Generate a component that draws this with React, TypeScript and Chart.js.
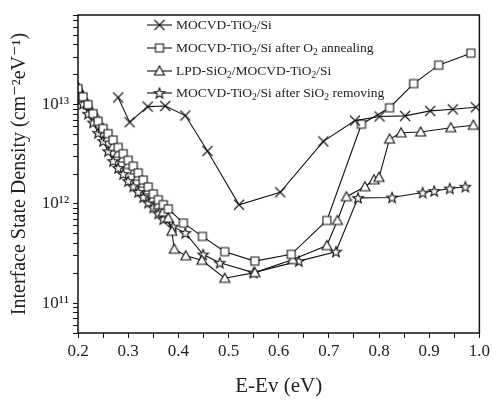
import React, { useEffect, useRef } from "react";
import { Chart, registerables } from "chart.js";
Chart.register(...registerables);

// ---- data ----
const crossX = [0.28, 0.303, 0.339, 0.374, 0.414, 0.458, 0.521, 0.603, 0.689, 0.752, 0.801, 0.852, 0.902, 0.947, 0.993];
const crossY = [1.18e13, 6.65e12, 9.55e12, 9.7e12, 7.76e12, 3.41e12, 9.8e11, 1.31e12, 4.26e12, 6.9e12, 7.6e12, 7.7e12, 8.65e12, 8.97e12, 9.4e12];

const squareX = [0.2, 0.21, 0.22, 0.23, 0.24, 0.25, 0.26, 0.27, 0.28, 0.29, 0.3, 0.31, 0.32, 0.33, 0.34, 0.35, 0.36, 0.37, 0.38, 0.41, 0.448, 0.4925, 0.5525, 0.625, 0.696, 0.765, 0.821, 0.869, 0.919, 0.983];
const squareY = [1.45e13, 1.2e13, 1.0e13, 8.1e12, 6.8e12, 5.75e12, 5.1e12, 4.4e12, 3.7e12, 3.2e12, 2.75e12, 2.4e12, 2.05e12, 1.74e12, 1.48e12, 1.26e12, 1.1e12, 9.8e11, 8.9e11, 6.4e11, 4.7e11, 3.3e11, 2.65e11, 3.1e11, 6.8e11, 6.35e12, 9.3e12, 1.63e13, 2.5e13, 3.3e13];

const triX = [0.2, 0.21, 0.22, 0.235, 0.25, 0.26, 0.27, 0.28, 0.29, 0.3, 0.313, 0.32, 0.33, 0.34, 0.35, 0.36, 0.37, 0.38, 0.387, 0.392, 0.415, 0.447, 0.4925, 0.5525, 0.628, 0.696, 0.717, 0.735, 0.772, 0.79, 0.8, 0.821, 0.844, 0.883, 0.943, 0.988];
const triY = [1.51e13, 1.2e13, 1.0e13, 7.8e12, 5.75e12, 4.7e12, 3.8e12, 3.24e12, 2.9e12, 2.5e12, 2.2e12, 1.9e12, 1.62e12, 1.38e12, 1.15e12, 9.8e11, 8.3e11, 7.2e11, 5.3e11, 3.5e11, 3.0e11, 2.7e11, 1.78e11, 2.03e11, 2.75e11, 3.8e11, 6.8e11, 1.18e12, 1.49e12, 1.75e12, 1.85e12, 4.5e12, 5.2e12, 5.3e12, 5.85e12, 6.2e12];

const starX = [0.2, 0.21, 0.22, 0.23, 0.24, 0.25, 0.26, 0.27, 0.28, 0.29, 0.3, 0.31, 0.32, 0.33, 0.34, 0.35, 0.36, 0.37, 0.389, 0.414, 0.4495, 0.4826, 0.55, 0.64, 0.714, 0.758, 0.826, 0.887, 0.91, 0.941, 0.972];
const starY = [1.32e13, 1.02e13, 8.1e12, 6.6e12, 5.2e12, 4.3e12, 3.4e12, 2.7e12, 2.3e12, 2.0e12, 1.7e12, 1.5e12, 1.32e12, 1.17e12, 1.03e12, 9.2e11, 8.0e11, 7.0e11, 5.9e11, 5.1e11, 3.09e11, 2.55e11, 2.03e11, 2.65e11, 3.3e11, 1.15e12, 1.16e12, 1.3e12, 1.35e12, 1.43e12, 1.49e12];

// legend labels as [text, isSub] segments
const legendLabels: [string, boolean][][] = [
  [["MOCVD-TiO", false], ["2", true], ["/Si", false]],
  [["MOCVD-TiO", false], ["2", true], ["/Si after O", false], ["2", true], [" annealing", false]],
  [["LPD-SiO", false], ["2", true], ["/MOCVD-TiO", false], ["2", true], ["/Si", false]],
  [["MOCVD-TiO", false], ["2", true], ["/Si after SiO", false], ["2", true], [" removing", false]],
];

const xTickValues = [0.2, 0.25, 0.3, 0.35, 0.4, 0.45, 0.5, 0.55, 0.6, 0.65, 0.7, 0.75, 0.8, 0.85, 0.9, 0.95, 1.0];
const yMin = 5e10;
const yMax = 8e13;

const FONT = "'Liberation Serif', 'DejaVu Serif', serif";

function makeMarker(kind: string): HTMLCanvasElement {
  const c = document.createElement("canvas");
  c.width = 16;
  c.height = 16;
  const g = c.getContext("2d")!;
  g.strokeStyle = "#111";
  g.fillStyle = "#fff";
  g.lineWidth = 1.1;
  const cx = 8, cy = 8;
  g.beginPath();
  if (kind === "cross") {
    g.moveTo(cx - 5, cy - 5); g.lineTo(cx + 5, cy + 5);
    g.moveTo(cx + 5, cy - 5); g.lineTo(cx - 5, cy + 5);
    g.stroke();
  } else if (kind === "rect") {
    g.rect(cx - 4, cy - 4, 8, 8);
    g.fill(); g.stroke();
  } else if (kind === "tri") {
    g.moveTo(cx, cy - 5); g.lineTo(cx + 5, cy + 4); g.lineTo(cx - 5, cy + 4); g.closePath();
    g.fill(); g.stroke();
  } else {
    for (let i = 0; i < 10; i++) {
      const r = i % 2 === 0 ? 5.5 : 2.3;
      const a = -Math.PI / 2 + (i * Math.PI) / 5;
      const px = cx + r * Math.cos(a), py = cy + 0.5 + r * Math.sin(a);
      if (i === 0) g.moveTo(px, py); else g.lineTo(px, py);
    }
    g.closePath();
    g.fill(); g.stroke();
  }
  return c;
}

function toPts(xs: number[], ys: number[]) {
  return xs.map((x, i) => ({ x, y: ys[i] }));
}

export default function App() {
  const ref = useRef<HTMLCanvasElement | null>(null);
  useEffect(() => {
    document.body.style.margin = "0";
    const markers = [makeMarker("cross"), makeMarker("rect"), makeMarker("tri"), makeMarker("star")];

    const framePlugin = {
      id: "frame",
      afterDatasetsDraw(chart: any) {
        const { ctx, chartArea: a } = chart;
        ctx.save();
        ctx.strokeStyle = "#111";
        ctx.lineWidth = 1.5;
        ctx.strokeRect(a.left, a.top, a.right - a.left, a.bottom - a.top);
        ctx.restore();
      },
    };

    const legendPlugin = {
      id: "customLegend",
      afterDraw(chart: any) {
        const { ctx } = chart;
        ctx.save();
        const x0 = 147, x1 = 172, tx = 176;
        const rows = [25, 48, 71, 93];
        legendLabels.forEach((segs, i) => {
          const y = rows[i];
          ctx.strokeStyle = "#111";
          ctx.lineWidth = 1.1;
          ctx.beginPath();
          ctx.moveTo(x0, y);
          ctx.lineTo(x1, y);
          ctx.stroke();
          const m = markers[i];
          ctx.drawImage(m, (x0 + x1) / 2 - m.width / 2, y - m.height / 2);
          let x = tx;
          ctx.fillStyle = "#222";
          ctx.textBaseline = "middle";
          ctx.textAlign = "left";
          segs.forEach(([t, sub]) => {
            ctx.font = sub ? `9.5px ${FONT}` : `13.5px ${FONT}`;
            ctx.fillText(t, x, sub ? y + 4 : y);
            x += ctx.measureText(t).width;
          });
        });
        ctx.restore();
      },
    };

    const common = {
      borderColor: "#111",
      borderWidth: 1.1,
      pointRadius: 5,
      pointHoverRadius: 5,
      showLine: true,
      fill: false,
      tension: 0,
    };

    const chart = new Chart(ref.current!, {
      type: "scatter",
      data: {
        datasets: [
          { ...common, data: toPts(crossX, crossY), pointStyle: markers[0] },
          { ...common, data: toPts(squareX, squareY), pointStyle: markers[1] },
          { ...common, data: toPts(triX, triY), pointStyle: markers[2] },
          { ...common, data: toPts(starX, starY), pointStyle: markers[3] },
        ],
      },
      options: {
        animation: false,
        responsive: false,
        maintainAspectRatio: false,
        layout: { padding: { top: 15, right: 11, left: 0, bottom: 0 } },
        plugins: { legend: { display: false }, tooltip: { enabled: false } },
        scales: {
          x: {
            type: "linear",
            min: 0.2,
            max: 1.0,
            afterBuildTicks: (s: any) => {
              s.ticks = xTickValues.map((v) => ({ value: v }));
            },
            afterFit: (s: any) => {
              s.height = 69;
            },
            border: { display: false },
            grid: { drawOnChartArea: false, drawTicks: true, tickLength: 5, color: "#111" },
            ticks: {
              autoSkip: false,
              maxRotation: 0,
              padding: 3,
              color: "#222",
              font: { family: FONT, size: 17 },
              callback: (v: any) => {
                const r = Math.round(v * 100);
                return r % 10 === 0 ? (v as number).toFixed(1) : "";
              },
            },
            title: {
              display: true,
              text: "E-Ev (eV)",
              color: "#222",
              font: { family: FONT, size: 21 },
              padding: { top: 0, bottom: 3 },
            },
          },
          y: {
            type: "logarithmic",
            min: yMin,
            max: yMax,
            afterBuildTicks: (s: any) => {
              const t: any[] = [];
              for (let e = 10; e <= 13; e++) {
                for (let m = 1; m <= 9; m++) {
                  const v = m * Math.pow(10, e);
                  if (v >= yMin && v <= yMax) t.push({ value: v, major: m === 1 });
                }
              }
              s.ticks = t;
            },
            afterFit: (s: any) => {
              s.width = 78;
            },
            border: { display: false },
            grid: { drawOnChartArea: false, drawTicks: true, tickLength: 5, color: "#111" },
            ticks: {
              autoSkip: false,
              padding: 4,
              color: "#222",
              font: { family: FONT, size: 17 },
              callback: (v: any) => {
                const e = Math.log10(v);
                if (Math.abs(e - Math.round(e)) < 1e-6) {
                  const sup: Record<string, string> = { "0": "⁰", "1": "¹", "2": "²", "3": "³" };
                  return "10" + String(Math.round(e)).split("").map((c) => sup[c] || c).join("");
                }
                return "";
              },
            },
            title: {
              display: true,
              text: "Interface State Density (cm⁻²eV⁻¹)",
              color: "#222",
              font: { family: FONT, size: 20 },
              padding: { top: 8, bottom: 0 },
            },
          },
        },
      },
      plugins: [framePlugin, legendPlugin],
    } as any);
    return () => chart.destroy();
  }, []);

  return (
    <div style={{ width: 493, height: 402 }}>
      <canvas ref={ref} width={493} height={402} style={{ display: "block" }} />
    </div>
  );
}
